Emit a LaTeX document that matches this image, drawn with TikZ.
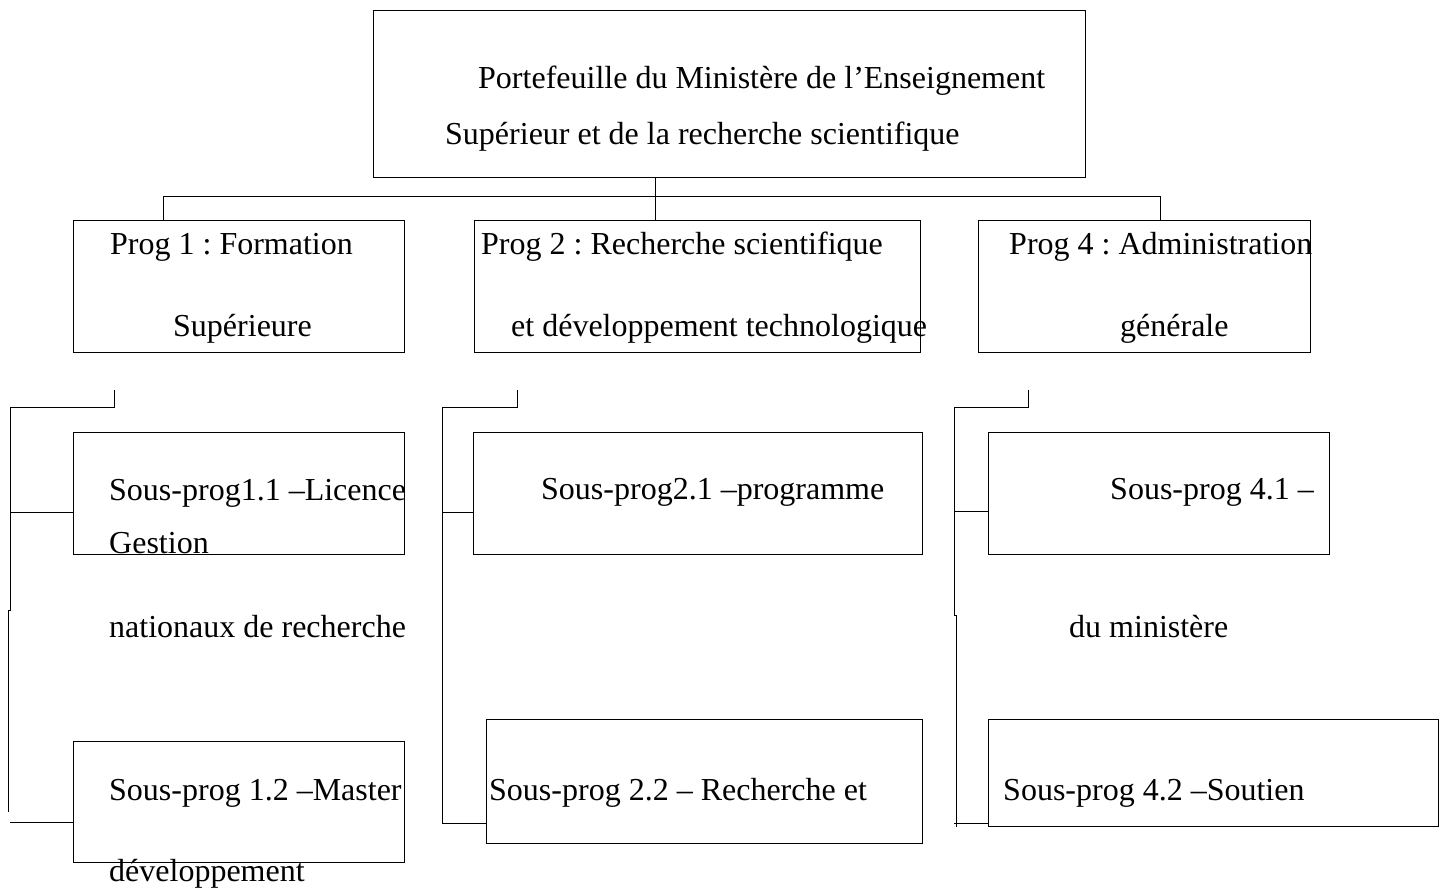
\documentclass[tikz,border=0pt]{standalone}
\usepackage{fontspec}
\setmainfont{Liberation Serif}
\usetikzlibrary{positioning}
\frenchspacing
\tikzset{x=1pt, y=-1pt, line width=1.8pt}
\tikzstyle{block} = [draw, rectangle, inner sep=0pt, outer sep=0pt]
\tikzstyle{txt} = [anchor=base west, inner sep=0pt, font=\fontsize{32}{32}\selectfont]
\begin{document}
\begin{tikzpicture}
        \useasboundingbox (0,0) rectangle (1445,888);
        % boxes
        \node [block, minimum width=712pt, minimum height=167pt] (top) at (729,93.5) {};
        \node [block, minimum width=331pt, minimum height=132pt] (prog1) at (238.5,286) {};
        \node [block, minimum width=446pt, minimum height=132pt, right=70pt of prog1] (prog2) {};
        \node [block, minimum width=332pt, minimum height=132pt, right=58pt of prog2] (prog4) {};
        \node [block, minimum width=331pt, minimum height=122pt, below=80pt of prog1] (sp11) {};
        \node [block, minimum width=331pt, minimum height=121pt, below=187pt of sp11] (sp12) {};
        \node [block, minimum width=449pt, minimum height=122pt] (sp21) at (697.5,493) {};
        \node [block, minimum width=436pt, minimum height=124pt] (sp22) at (704,781) {};
        \node [block, minimum width=341pt, minimum height=122pt] (sp41) at (1158.5,493) {};
        \node [block, minimum width=450pt, minimum height=107pt] (sp42) at (1213,772.5) {};

        % texts
        \node [txt] (t_top_a) at (478,89) {Portefeuille du Ministère de l’Enseignement};
        \node [txt] (t_top_b) at (445,144) {Supérieur et de la recherche scientifique};
        \node [txt] (t_p1_a) at (110,254) {Prog 1 : Formation};
        \node [txt] (t_p1_b) at (173,336) {Supérieure};
        \node [txt] (t_p2_a) at (481,254) {Prog 2 : Recherche scientifique};
        \node [txt] (t_p2_b) at (511,336) {et développement technologique};
        \node [txt] (t_p4_a) at (1009,254) {Prog 4 : Administration};
        \node [txt] (t_p4_b) at (1120,336) {générale};
        \node [txt] (t_s11_a) at (109,500) {Sous-prog1.1 –Licence};
        \node [txt] (t_s11_b) at (109,553) {Gestion};
        \node [txt] (t_s11_c) at (109,637) {nationaux de recherche};
        \node [txt] (t_s12_a) at (109,800) {Sous-prog 1.2 –Master};
        \node [txt] (t_s12_b) at (109,881) {développement};
        \node [txt] (t_s21) at (541,499) {Sous-prog2.1 –programme};
        \node [txt] (t_s22) at (489,800) {Sous-prog 2.2 – Recherche et};
        \node [txt] (t_s41_a) at (1110,499) {Sous-prog 4.1 –};
        \node [txt] (t_s41_b) at (1069,637) {du ministère};
        \node [txt] (t_s42) at (1003,800) {Sous-prog 4.2 –Soutien};

        % top to programmes
        \coordinate (bus) at (655,196);
        \coordinate (bus_l) at (163,196);
        \coordinate (bus_r) at (1160,196);
        \draw (top.south -| bus) -- (prog2.north -| bus);
        \draw (bus_l) -- (bus_r);
        \draw (bus_l) -- (bus_l |- prog1.north);
        \draw (bus_r) -- (bus_r |- prog4.north);

        % programme 1
        \coordinate (tick_1) at (114,390);
        \coordinate (spine_1) at (10,407);
        \coordinate (branch_1) at (10,512);
        \coordinate (foot_1) at (10,822);
        \draw (tick_1) |- (spine_1) -- ++(0,203) -- ++(-2,0) -- ++(0,202);
        \draw (branch_1) -- (branch_1 -| sp11.west);
        \draw (foot_1) -- (foot_1 -| sp12.west);

        % programme 2
        \coordinate (tick_2) at (517,390);
        \coordinate (spine_2) at (442,407);
        \coordinate (branch_2) at (442,512);
        \coordinate (foot_2) at (442,823);
        \draw (tick_2) |- (spine_2) -- (foot_2) -- (foot_2 -| sp22.west);
        \draw (branch_2) -- (branch_2 -| sp21.west);

        % programme 4
        \coordinate (tick_4) at (1028,390);
        \coordinate (spine_4) at (954,407);
        \coordinate (branch_4) at (954,511);
        \coordinate (foot_4) at (954,823);
        \draw (tick_4) |- (spine_4) -- ++(0,208) -- ++(2,0) -- ++(0,212);
        \draw (branch_4) -- (branch_4 -| sp41.west);
        \draw (foot_4) -- (foot_4 -| sp42.west);
    \end{tikzpicture}
\end{document}
